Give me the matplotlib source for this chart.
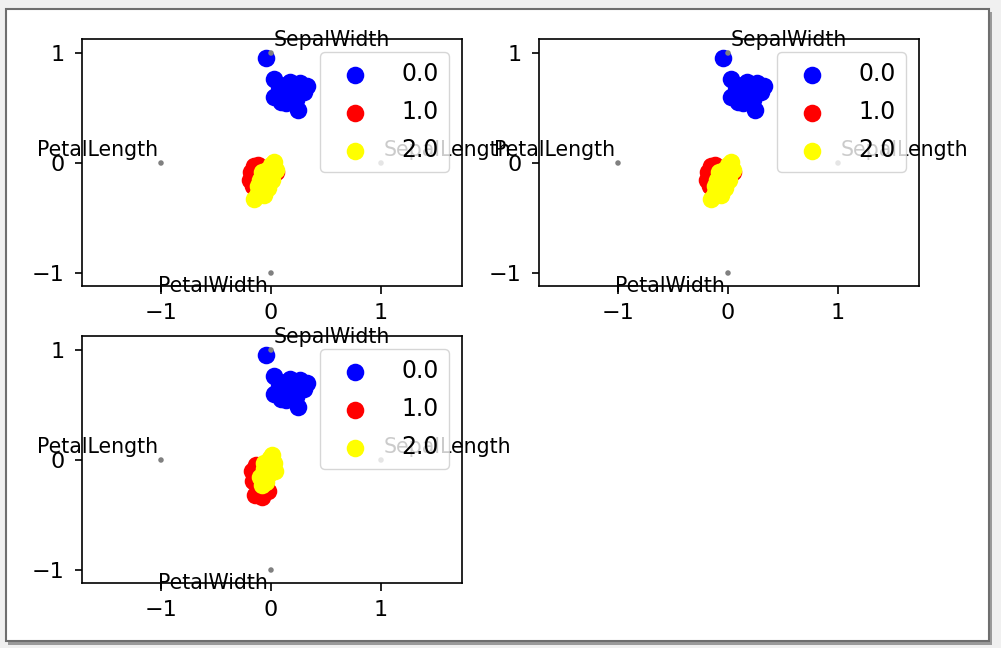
import matplotlib
matplotlib.use("Agg")
import matplotlib.pyplot as plt
from matplotlib import patches

# ---------------- data (RadViz projected coordinates) ----------------
features = ["SepalLength", "SepalWidth", "PetalLength", "PetalWidth"]
class_labels = ["0.0", "1.0", "2.0"]
class_colors = ["blue", "red", "yellow"]

blue_x = [-0.045, 0.027, 0.073, 0.173, 0.264, 0.327, 0.027, 0.109, 0.19, 0.3,
          0.227, 0.09, 0.136, 0.245, 0.22, 0.15, 0.06]
blue_y = [0.955, 0.764, 0.70, 0.736, 0.727, 0.70, 0.60, 0.664, 0.636, 0.645,
          0.573, 0.555, 0.545, 0.482, 0.69, 0.72, 0.64]

red_a_x = [-0.18, -0.19, -0.155, -0.118, 0.045, 0.009, -0.164, -0.09, -0.05]
red_a_y = [-0.08, -0.155, -0.027, -0.018, -0.08, -0.073, -0.209, -0.05, -0.10]
yellow_a_x = [0.027, -0.009, -0.045, -0.082, -0.118, -0.155, 0.045, 0.009, -0.027,
              -0.064, -0.10, -0.082, 0.0, -0.04, -0.12, -0.07]
yellow_a_y = [0.009, -0.064, -0.136, -0.209, -0.273, -0.327, -0.064, -0.155, -0.227,
              -0.29, -0.155, -0.08, -0.02, -0.06, -0.21, -0.25]

red_b_x = [-0.173, -0.164, -0.145, -0.082, -0.027, -0.136, -0.118, -0.10, -0.06]
red_b_y = [-0.10, -0.19, -0.318, -0.336, -0.28, -0.045, -0.245, -0.30, -0.25]
yellow_b_x = [0.009, -0.027, -0.064, -0.10, -0.082, 0.027, -0.009, -0.045, 0.036,
              -0.01, -0.06]
yellow_b_y = [0.045, -0.009, -0.082, -0.155, -0.227, -0.027, -0.118, -0.20, -0.10,
              0.02, -0.03]

panels = [
    ([blue_x, red_a_x, yellow_a_x], [blue_y, red_a_y, yellow_a_y]),
    ([blue_x, red_a_x, yellow_a_x], [blue_y, red_a_y, yellow_a_y]),
    ([blue_x, red_b_x, yellow_b_x], [blue_y, red_b_y, yellow_b_y]),
]

# ---------------- figure ----------------
W, H = 1001, 648
fig = plt.figure(figsize=(W / 100, H / 100), dpi=100)
fig.patch.set_facecolor("#f0f0f0")

def fx(px):
    return px / W

def fy(py):
    return 1 - py / H

# window shadow + frame
fig.patches.append(patches.Rectangle((fx(8), fy(645)), fx(984), (645 - 12) / H,
                                     transform=fig.transFigure, facecolor="#9a9a9a",
                                     edgecolor="none", zorder=0))
fig.patches.append(patches.Rectangle((fx(6), fy(641)), fx(983), (641 - 9) / H,
                                     transform=fig.transFigure, facecolor="white",
                                     edgecolor="#6e6e6e", linewidth=1.5, zorder=1))

boxes = [(82, 39), (539, 39), (82, 336)]
aw, ah = 380, 247
x0_off = 189  # pixel offset of x=0 from axes left
y0_off = 124  # pixel offset of y=0 from axes top
scale = 110.0

tick_fs = 16
leg_fs = 17
for (bx, by), (xs, ys) in zip(boxes, panels):
    ax = fig.add_axes([fx(bx), fy(by + ah), aw / W, ah / H])
    ax.set_zorder(2)
    ax.set_xlim(-x0_off / scale, (aw - x0_off) / scale)
    ax.set_ylim(-(ah - y0_off) / scale, y0_off / scale)
    for sp in ax.spines.values():
        sp.set_linewidth(1.2)
    ax.tick_params(labelsize=tick_fs, length=5.4, width=1.2, pad=7.0)
    ax.set_xticks([-1, 0, 1])
    ax.set_yticks([-1, 0, 1])

    for cx, cy, col, lab in zip(xs, ys, class_colors, class_labels):
        ax.scatter(cx, cy, s=160, color=col, label=lab, linewidths=0)

    anchors = [(1.0, 0.0), (0.0, 1.0), (-1.0, 0.0), (0.0, -1.0)]
    for (axx, ayy), name in zip(anchors, features):
        ax.add_patch(patches.Circle((axx, ayy), radius=0.025, facecolor="gray",
                                    edgecolor="none"))
        if axx < 0 or (axx == 0 and ayy < 0):
            ha = "right"
            tx = axx - 0.025
        else:
            ha = "left"
            tx = axx + 0.025
        if ayy < 0:
            va = "top"
            ty = ayy - 0.025
        else:
            va = "bottom"
            ty = ayy + 0.025
        ax.text(tx, ty, name, ha=ha, va=va, fontsize=14.8, clip_on=False)

    ax.legend(loc="upper right", fontsize=leg_fs, handlelength=2.17,
              handletextpad=0.9, labelspacing=0.6, borderaxespad=0.57,
              borderpad=0.4)

fig.savefig("out.png", dpi=100, facecolor=fig.get_facecolor())
